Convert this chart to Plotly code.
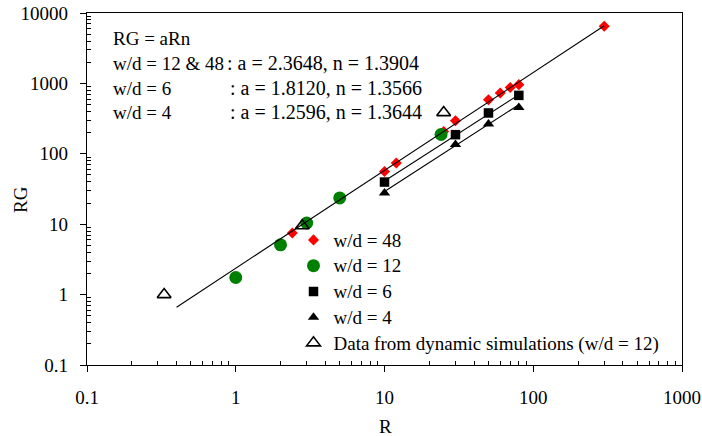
import numpy as np
import plotly.graph_objects as go

# Measured points
R_wd48 = [2.4, 10, 12, 25, 30, 50, 60, 70, 80, 300]
RG_wd48 = [7.5, 56, 74, 208, 295, 585, 730, 875, 960, 6500]

R_wd12 = [1, 2, 3, 5, 24]
RG_wd12 = [1.75, 5.1, 10.4, 23.6, 188]

R_wd6 = [10, 30, 50, 80]
RG_wd6 = [39.7, 187, 380, 676]

R_wd4 = [10, 30, 50, 80]
RG_wd4 = [27.7, 135, 265, 456]

R_dyn = [0.33, 2.8, 25]
RG_dyn = [1.0, 9.5, 385]

# Power-law fits RG = a * R^n
fit_labels = ["w/d = 12 & 48", "w/d = 6", "w/d = 4"]
fit_a = [2.3648, 1.8120, 1.2596]
fit_n = [1.3904, 1.3566, 1.3644]
fit_rmin = [0.4, 10, 10]
fit_rmax = [300, 80, 80]

x_ticks = [0.1, 1, 10, 100, 1000]
x_ticktext = ["0.1", "1", "10", "100", "1000"]
y_ticks = [0.1, 1, 10, 100, 1000, 10000]
y_ticktext = ["0.1", "1", "10", "100", "1000", "10000"]

FONT = "Liberation Serif"
FS = 19
W, H = 702, 436
ML, MR, MT, MB = 87, 20, 13, 71
PW, PH = W - ML - MR, H - MT - MB


def px(x):
    return (x - ML) / PW


def py(y):
    return 1 - (y - MT) / PH


def legend_name(s):
    return f'<span style="font-size:{FS}px">{s}</span>'


fig = go.Figure()

fig.add_trace(go.Scatter(x=R_wd48, y=RG_wd48, mode="markers", name=legend_name("w/d = 48"),
                         marker=dict(symbol="diamond", size=8.5, color="#ff0000")))
fig.add_trace(go.Scatter(x=R_wd12, y=RG_wd12, mode="markers", name=legend_name("w/d = 12"),
                         marker=dict(symbol="circle", size=13, color="#008000")))
fig.add_trace(go.Scatter(x=R_wd6, y=RG_wd6, mode="markers", name=legend_name("w/d = 6"),
                         marker=dict(symbol="square", size=9.5, color="black")))
fig.add_trace(go.Scatter(x=R_wd4, y=RG_wd4, mode="markers", name=legend_name("w/d = 4"),
                         marker=dict(symbol="triangle-up", size=10, color="black")))
fig.add_trace(go.Scatter(x=R_dyn, y=RG_dyn, mode="markers",
                         name=legend_name("Data from dynamic simulations (w/d = 12)"),
                         marker=dict(symbol="triangle-up-open", size=12, color="black",
                                     line=dict(width=1.6, color="black"))))

# Fit lines
for a, n, r0, r1 in zip(fit_a, fit_n, fit_rmin, fit_rmax):
    rr = np.geomspace(r0, r1, 40)
    fig.add_trace(go.Scatter(x=rr, y=a * rr ** n, mode="lines", showlegend=False,
                             line=dict(color="black", width=1.1), hoverinfo="skip"))

minor_x = [k * 10.0 ** e for e in range(-1, 3) for k in range(2, 10)]
minor_y = [k * 10.0 ** e for e in range(-1, 4) for k in range(2, 10)]

axis_common = dict(
    type="log", showgrid=False, zeroline=False, automargin=False,
    showline=True, linecolor="black", linewidth=1.3, mirror=True,
    ticks="outside", ticklen=6, tickwidth=1.2, tickcolor="black",
    tickfont=dict(family=FONT, size=FS, color="black"),
)

fig.update_xaxes(**axis_common, range=[-1, 3], tickmode="array",
                 tickvals=x_ticks, ticktext=x_ticktext, ticklabelstandoff=9,
                 minor=dict(tickmode="array", tickvals=minor_x, ticks="inside",
                            ticklen=4, tickwidth=1, tickcolor="black", showgrid=False))
fig.update_yaxes(**axis_common, range=[-1, 4], tickmode="array",
                 tickvals=y_ticks, ticktext=y_ticktext, ticklabelstandoff=8,
                 minor=dict(tickmode="array", tickvals=minor_y, ticks="inside",
                            ticklen=4, tickwidth=1, tickcolor="black", showgrid=False))

annots = []
ann_font = dict(family=FONT, size=FS, color="black")
rhs_font = dict(family=FONT, size=20, color="black")
# Axis titles
annots.append(dict(text="R", x=px(385), y=py(426), xref="paper", yref="paper",
                   showarrow=False, font=ann_font, xanchor="center", yanchor="middle"))
annots.append(dict(text="RG", x=px(20), y=py(200), xref="paper", yref="paper",
                   showarrow=False, font=ann_font, textangle=-90,
                   xanchor="center", yanchor="middle"))

# Equation block
x_left = px(111)
annots.append(dict(text="RG = aRn", x=x_left, y=py(38.5), xref="paper", yref="paper",
                   showarrow=False, font=ann_font, xanchor="left", yanchor="middle"))
line_y = [63.5, 88.3, 112]
colon_x = [224.5, 227.5, 227.5]
for lab, a, n, ly, cx in zip(fit_labels, fit_a, fit_n, line_y, colon_x):
    rhs = f": a = {a:.4f}, n = {n:.4f}"
    annots.append(dict(text=lab, x=x_left, y=py(ly), xref="paper",
                       yref="paper", showarrow=False, font=ann_font,
                       xanchor="left", yanchor="middle"))
    annots.append(dict(text=rhs, x=px(cx), y=py(ly), xref="paper",
                       yref="paper", showarrow=False, font=rhs_font,
                       xanchor="left", yanchor="middle"))

fig.update_layout(
    width=W, height=H,
    margin=dict(l=ML, r=MR, t=MT, b=MB, autoexpand=False),
    paper_bgcolor="white", plot_bgcolor="white",
    font=dict(family=FONT, size=FS, color="black"),
    showlegend=True,
    legend=dict(x=px(293.5), y=py(222), xanchor="left", yanchor="top",
                bgcolor="rgba(0,0,0,0)", borderwidth=0, itemwidth=30,
                font=dict(family=FONT, size=17.5, color="black"),
                tracegroupgap=0),
    annotations=annots,
)

fig.write_html("out.html")
